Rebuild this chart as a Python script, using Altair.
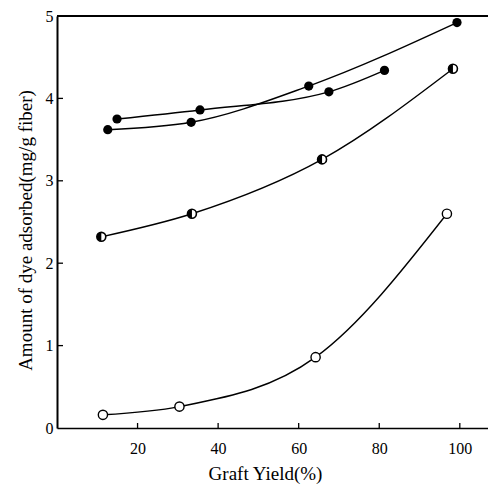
import altair as alt
import pandas as pd

# Series values
A_x = [12.6, 33.3, 62.5, 99.3]
A_y = [3.62, 3.71, 4.15, 4.92]
B_x = [14.9, 35.5, 67.5, 81.3]
B_y = [3.75, 3.86, 4.08, 4.34]
C_x = [11.0, 33.5, 65.8, 98.3]
C_y = [2.32, 2.60, 3.26, 4.36]
D_x = [11.4, 30.4, 64.2, 96.8]
D_y = [0.16, 0.26, 0.86, 2.60]
x_ticks = [20, 40, 60, 80, 100]
y_ticks = [0, 1, 2, 3, 4, 5]

W, H = 431, 412
FONT = "Liberation Serif"

def frame(xs, ys, name):
    return pd.DataFrame({"x": xs, "y": ys, "s": name})

df = pd.concat([frame(A_x, A_y, "A"), frame(B_x, B_y, "B"),
                frame(C_x, C_y, "C"), frame(D_x, D_y, "D")])

xsc = alt.Scale(domain=[0, 107], nice=False)
ysc = alt.Scale(domain=[0, 5], nice=False)

X = alt.X("x:Q", scale=xsc, title="Graft Yield(%)",
          axis=alt.Axis(values=x_ticks, grid=False, tickSize=0, labelPadding=12,
                        format="d",
                        labelFont=FONT, labelFontSize=16, labelColor="black",
                        titleFont=FONT, titleFontSize=19, titleFontWeight="normal",
                        titleColor="black", titlePadding=8, titleX=208,
                        domainColor="black", domainWidth=1.5))
Y = alt.Y("y:Q", scale=ysc, title="Amount of dye adsorbed(mg/g fiber)",
          axis=alt.Axis(values=y_ticks, grid=False, tickSize=0, labelPadding=4,
                        format="d",
                        labelFont=FONT, labelFontSize=16, labelColor="black",
                        titleFont=FONT, titleFontSize=19, titleFontWeight="normal",
                        titleColor="black", titlePadding=10, titleY=214,
                        domainColor="black", domainWidth=2))

base = alt.Chart(df)

lines = base.mark_line(color="black", strokeWidth=1.4, interpolate="monotone").encode(
    x=X, y=Y, detail="s:N")

filled = base.transform_filter("datum.s == 'A' || datum.s == 'B'").mark_point(
    shape="circle", filled=True, color="black", size=85, opacity=1).encode(x="x:Q", y="y:Q")

half_bg = base.transform_filter("datum.s == 'C'").mark_point(
    shape="circle", filled=True, fill="white", stroke="black", strokeWidth=1.6,
    size=80, opacity=1).encode(x="x:Q", y="y:Q")
half_fg = base.transform_filter("datum.s == 'C'").mark_point(
    shape="M0,-1 A1,1 0 0,0 0,1 Z", filled=True, color="black", size=80,
    opacity=1).encode(x="x:Q", y="y:Q")

open_c = base.transform_filter("datum.s == 'D'").mark_point(
    shape="circle", filled=True, fill="white", stroke="black", strokeWidth=1.4,
    size=85, opacity=1).encode(x="x:Q", y="y:Q")

xt = pd.DataFrame({"t": x_ticks})
yt = pd.DataFrame({"t": y_ticks[1:]})
xtick = alt.Chart(xt).mark_rule(color="black", strokeWidth=1.3).encode(
    x=alt.X("t:Q", scale=xsc), y=alt.value(H - 5), y2=alt.value(H))
ytick = alt.Chart(yt).mark_rule(color="black", strokeWidth=1.3).encode(
    y=alt.Y("t:Q", scale=ysc), x=alt.value(0), x2=alt.value(6))
top = alt.Chart(xt).mark_rule(color="black", strokeWidth=1.3).encode(
    x=alt.value(0), x2=alt.value(W), y=alt.value(0))

chart = alt.layer(lines, filled, half_bg, half_fg, open_c, xtick, ytick, top).properties(
    width=W, height=H,
    autosize=alt.AutoSizeParams(type="none"),
    padding={"left": 49, "top": 8, "right": 0, "bottom": 63},
).configure_view(stroke=None).configure(background="white")

chart.save("out.html", embed_options={"renderer": "svg", "actions": False})
